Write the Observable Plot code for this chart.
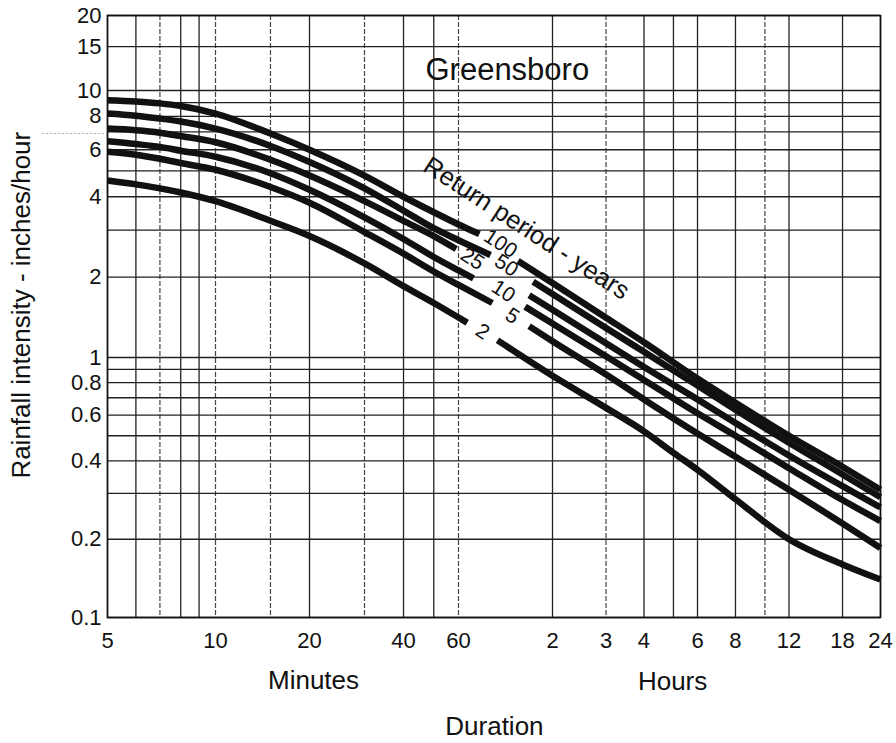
<!DOCTYPE html>
<html>
<head>
<meta charset="utf-8">
<script src="https://cdn.jsdelivr.net/npm/d3@7"></script>
<script src="https://cdn.jsdelivr.net/npm/@observablehq/plot@0.6"></script>
<style>
  html, body { margin: 0; padding: 0; background: #fff; }
  #chart svg { display: block; }
</style>
</head>
<body>
<div id="chart"></div>
<script>
// ---------- data (duration in minutes, intensity in inches/hour) ----------
// short-duration segments (left of the label gap)
const short100 = [[5,9.2],[6,9.1],[7,8.95],[8,8.75],[10,8.2],[15,6.9],[20,6.0],[30,4.8],[40,4.0],[50,3.5],[60,3.15],[70,2.9]];
const short50  = [[5,8.2],[6,8.05],[7,7.85],[8,7.65],[10,7.2],[15,6.2],[20,5.4],[30,4.3],[40,3.55],[50,3.05],[60,2.75],[76,2.42]];
const short25  = [[5,7.2],[6,7.1],[7,6.95],[8,6.75],[10,6.4],[15,5.5],[20,4.8],[30,3.85],[40,3.25],[50,2.85],[59,2.55]];
const short10  = [[5,6.45],[6,6.3],[7,6.15],[8,5.95],[10,5.65],[15,4.9],[20,4.25],[30,3.35],[40,2.78],[50,2.38],[60,2.12],[67,1.98]];
const short5   = [[5,5.9],[6,5.75],[7,5.55],[8,5.35],[10,5.05],[15,4.35],[20,3.8],[30,2.95],[40,2.45],[50,2.1],[60,1.87],[77,1.6]];
const short2   = [[5,4.6],[6,4.45],[7,4.3],[8,4.15],[10,3.85],[15,3.25],[20,2.85],[30,2.25],[40,1.85],[50,1.6],[64,1.35]];
// long-duration segments (right of the label gap)
const long100 = [[93,2.3],[120,1.9],[180,1.41],[240,1.14],[360,0.83],[480,0.67],[720,0.5],[1080,0.38],[1440,0.31]];
const long50  = [[104,1.92],[120,1.73],[180,1.29],[240,1.05],[360,0.78],[480,0.63],[720,0.47],[1080,0.355],[1440,0.29]];
const long25  = [[101,1.71],[120,1.51],[180,1.13],[240,0.92],[360,0.69],[480,0.56],[720,0.42],[1080,0.32],[1440,0.265]];
const long10  = [[98,1.55],[120,1.34],[180,1.01],[240,0.82],[360,0.61],[480,0.5],[720,0.375],[1080,0.283],[1440,0.235]];
const long5   = [[101,1.31],[120,1.15],[180,0.86],[240,0.69],[360,0.51],[480,0.415],[720,0.31],[1080,0.23],[1440,0.185]];
const long2   = [[80,1.16],[120,0.85],[180,0.64],[240,0.52],[300,0.43],[360,0.37],[480,0.285],[720,0.2],[1080,0.16],[1440,0.14]];

const periods = ["100","50","25","10","5","2"];
const shortSegs = [short100, short50, short25, short10, short5, short2];
const longSegs  = [long100, long50, long25, long10, long5, long2];

// axis ticks and labels
const xTicks      = [5,10,20,40,60,120,180,240,360,480,720,1080,1440];
const xTickLabels = ["5","10","20","40","60","2","3","4","6","8","12","18","24"];
const yTicks      = [0.1,0.2,0.4,0.6,0.8,1,2,4,6,8,10,15,20];
const yTickLabels = ["0.1","0.2","0.4","0.6","0.8","1","2","4","6","8","10","15","20"];

// grid lines
const xGridSolid  = [5,6,8,9,20,40,50,120,240,300,360,480,720,1080,1440];
const xGridDashed = [7,10,15,30,60,180,600];
const yGrid       = [0.1,0.2,0.3,0.4,0.5,0.6,0.7,0.8,0.9,1,2,3,4,5,6,7,8,9,10,15,20];

// text
const title = "Greensboro";
const seriesTitle = "Return period - years";
const yTitle = "Rainfall intensity - inches/hour";
const xTitle = "Duration";
const xSubTitles = ["Minutes", "Hours"];

// ---------- build table ----------
const rows = [];
periods.forEach((p, k) => {
  shortSegs[k].forEach(([d, v]) => rows.push({period: p, seg: p + "-short", dur: d, val: v}));
  longSegs[k].forEach(([d, v]) => rows.push({period: p, seg: p + "-long", dur: d, val: v}));
});
const xLab = new Map(xTicks.map((t, i) => [t, xTickLabels[i]]));
const yLab = new Map(yTicks.map((t, i) => [t, yTickLabels[i]]));

// label anchor positions (data coordinates)
const periodLabelPos = [[81.8,2.67],[85.5,2.21],[66.5,2.34],[83.6,1.77],[89.3,1.43],[71.6,1.25]];

const font = "'Liberation Sans', Arial, Helvetica, sans-serif";
const ink = "#111";

const chart = Plot.plot({
  width: 896,
  height: 743,
  marginTop: 15,
  marginRight: 16,
  marginBottom: 126,
  marginLeft: 107,
  style: {fontFamily: font, fontSize: "22px", color: ink, background: "#fff", overflow: "visible"},
  x: {type: "log", domain: [5, 10, 120, 1440], range: [107, 215, 552, 880], axis: null},
  y: {type: "log", domain: [0.1, 1, 10, 20], range: [617, 357, 90, 15], axis: null},
  marks: [
    Plot.ruleX(xGridSolid, {stroke: "#222", strokeWidth: 1.3}),
    Plot.ruleX(xGridDashed, {stroke: "#444", strokeWidth: 1.2, strokeDasharray: "5,2"}),
    Plot.ruleY(yGrid, {stroke: "#222", strokeWidth: 1.3}),
    Plot.frame({stroke: ink, strokeWidth: 1.6}),
    Plot.ruleY([6.9], {x1: 3.3, x2: 4.9, stroke: "#aaa", strokeWidth: 1, strokeDasharray: "2,2"}),
    Plot.line(rows, {x: "dur", y: "val", z: "seg", stroke: ink, strokeWidth: 6.5, curve: "monotone-x", strokeLinecap: "butt"}),
    // tick labels
    Plot.text(xTicks, {x: d => d, frameAnchor: "bottom", dy: 23, text: d => xLab.get(d), fontSize: 22, textAnchor: "middle", lineAnchor: "middle", fill: ink}),
    Plot.text(yTicks, {y: d => d, frameAnchor: "left", dx: -6, text: d => yLab.get(d), fontSize: 22, textAnchor: "end", lineAnchor: "middle", fill: ink}),
    // annotations
    Plot.text([title], {x: () => 86, y: () => 11, text: d => d, fontSize: 31, textAnchor: "middle", lineAnchor: "bottom", fill: ink}),
    Plot.text([seriesTitle], {x: () => 45.7, y: () => 5.04, text: d => d, fontSize: 25.5, rotate: 33, textAnchor: "start", lineAnchor: "bottom", fill: ink}),
    Plot.text(periods, {x: (d, i) => periodLabelPos[i][0], y: (d, i) => periodLabelPos[i][1], text: d => d, fontSize: 21, rotate: 33, textAnchor: "middle", lineAnchor: "middle", fill: ink}),
    Plot.text([xSubTitles[0]], {x: () => 20.6, y: () => 0.0533, text: d => d, fontSize: 26, textAnchor: "middle", lineAnchor: "bottom", fill: ink}),
    Plot.text([xSubTitles[1]], {x: () => 298, y: () => 0.0524, text: d => d, fontSize: 26, textAnchor: "middle", lineAnchor: "bottom", fill: ink}),
    Plot.text([xTitle], {x: () => 78.2, y: () => 0.0352, text: d => d, fontSize: 26, textAnchor: "middle", lineAnchor: "bottom", fill: ink}),
    Plot.text([yTitle], {x: () => 3.05, y: () => 1.57, text: d => d, fontSize: 26, rotate: -90, textAnchor: "middle", lineAnchor: "bottom", fill: ink})
  ]
});
document.getElementById("chart").appendChild(chart);
</script>
</body>
</html>
